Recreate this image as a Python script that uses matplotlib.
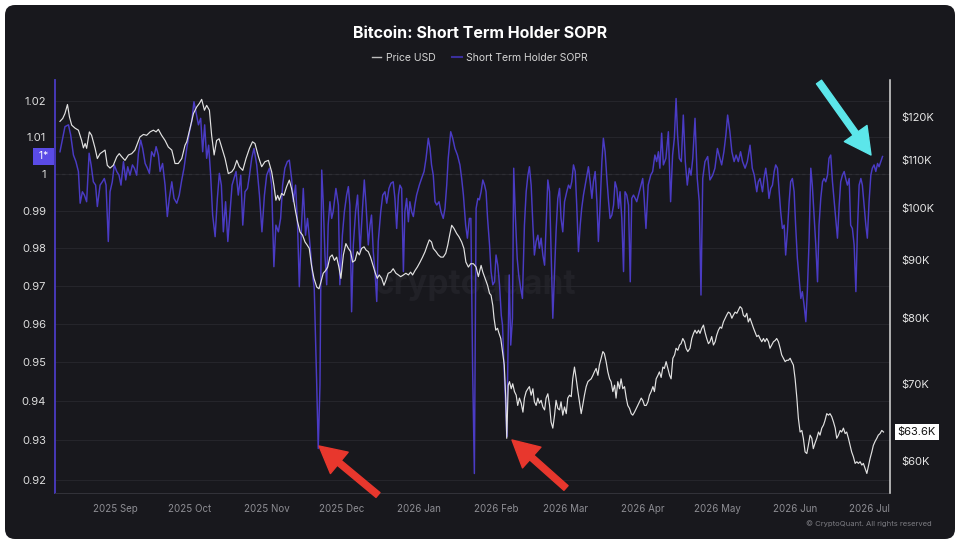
import numpy as np
import matplotlib
matplotlib.use("Agg")
import matplotlib.pyplot as plt
import matplotlib.dates as mdates
import datetime as dt
from matplotlib.patches import FancyBboxPatch, FancyArrowPatch
from matplotlib.transforms import IdentityTransform, blended_transform_factory
from matplotlib.ticker import FixedLocator, FixedFormatter, NullLocator, NullFormatter
from matplotlib.lines import Line2D

plt.rcParams['font.family'] = ['Inter', 'DejaVu Sans']

# ---------------- data (days offset from 2025-09-01) ----------------
base_date = dt.date(2025, 9, 1)

price_points = [  # (day, price in $K)
    (-22.1, 119.0), (-21.0, 119.7), (-20.1, 120.9), (-19.1, 123.1), (-18.3, 120.1), (-17.4, 118.1),
    (-16.1, 117.4), (-14.7, 116.9), (-13.4, 114.5), (-12.7, 112.8), (-12.0, 113.8), (-11.4, 112.7),
    (-10.3, 116.5), (-9.4, 115.7), (-8.0, 112.7), (-7.1, 110.4), (-6.0, 111.5), (-5.0, 111.9),
    (-4.0, 112.3), (-3.1, 108.9), (-2.0, 108.3), (-0.7, 108.9), (0.7, 110.8), (1.7, 111.5),
    (2.7, 110.8), (4.0, 110.0), (5.4, 111.2), (6.7, 111.5), (8.0, 112.3), (9.0, 113.8),
    (10.0, 115.3), (11.4, 115.9), (12.7, 115.7), (14.1, 116.5), (15.4, 116.9), (16.5, 116.5),
    (17.4, 117.1), (18.7, 115.7), (20.1, 114.5), (21.4, 113.0), (22.8, 112.3), (24.1, 109.3),
    (25.4, 109.3), (26.8, 110.4), (28.1, 113.4), (28.8, 114.2), (30.1, 117.3), (31.5, 120.9),
    (32.8, 122.5), (33.9, 123.4), (34.8, 124.4), (35.9, 121.7), (36.8, 122.9), (37.9, 121.7),
    (38.8, 115.7), (39.8, 111.2), (40.8, 114.5), (41.8, 114.9), (42.8, 113.0), (44.2, 110.4),
    (45.5, 107.1), (46.9, 107.5), (47.8, 108.2), (48.9, 110.0), (49.9, 108.6), (51.3, 107.8),
    (52.6, 110.4), (54.0, 112.7), (55.2, 114.2), (56.2, 113.8), (57.6, 110.8), (58.9, 108.6),
    (60.2, 109.7), (61.6, 110.0), (62.9, 107.5), (63.8, 104.6), (64.6, 101.5), (65.3, 102.5),
    (66.0, 101.5), (66.9, 102.9), (67.8, 102.5), (68.9, 104.3), (70.0, 105.7), (70.9, 103.9),
    (71.6, 101.9), (72.5, 99.2), (73.3, 97.2), (74.3, 95.2), (75.3, 94.6), (76.3, 93.3),
    (77.2, 92.7), (78.0, 92.1), (78.9, 89.0), (79.9, 86.7), (81.0, 85.2), (81.9, 84.9),
    (82.7, 86.1), (83.6, 87.6), (84.6, 88.1), (85.4, 88.7), (86.3, 90.5), (87.2, 90.9),
    (88.1, 89.9), (89.0, 90.5), (89.9, 88.7), (90.7, 86.7), (91.7, 90.9), (92.7, 93.0),
    (93.7, 92.1), (94.6, 91.5), (95.4, 89.6), (96.4, 89.9), (97.3, 91.5), (98.1, 90.9),
    (99.0, 92.1), (100.0, 92.4), (100.8, 91.8), (101.7, 91.5), (102.6, 90.5), (103.4, 89.3),
    (104.4, 87.8), (105.3, 86.7), (106.1, 87.3), (107.1, 86.7), (108.0, 85.5), (108.8, 86.4),
    (109.7, 87.6), (110.7, 87.8), (111.7, 88.4), (112.8, 87.6), (113.8, 87.3), (114.7, 87.0),
    (115.8, 87.3), (116.8, 87.6), (117.8, 87.3), (118.7, 87.8), (119.5, 87.3), (120.5, 88.1),
    (121.4, 88.7), (122.5, 89.6), (123.5, 90.5), (124.5, 91.5), (125.4, 92.7), (126.2, 93.7),
    (127.1, 93.3), (127.8, 92.1), (128.9, 91.5), (129.8, 90.9), (130.8, 90.5), (131.8, 90.5),
    (132.8, 91.2), (133.6, 92.7), (134.5, 94.9), (135.2, 96.5), (136.1, 95.9), (137.2, 94.9),
    (138.1, 94.3), (139.2, 93.3), (140.1, 92.1), (140.9, 89.6), (141.9, 88.7), (142.8, 89.3),
    (143.9, 89.3), (145.0, 88.7), (145.9, 87.0), (147.0, 89.0), (147.7, 87.8), (148.6, 86.7),
    (149.6, 85.5), (150.4, 84.1), (151.0, 83.8), (151.7, 82.1), (152.2, 80.0), (152.9, 78.1),
    (153.6, 78.4), (154.2, 77.6), (154.9, 76.8), (155.6, 74.8), (156.3, 72.8), (156.9, 68.1),
    (157.3, 62.8), (157.9, 69.9), (158.4, 70.4), (159.1, 69.4), (159.7, 70.1), (160.4, 69.0),
    (161.1, 68.5), (161.7, 67.1), (162.4, 68.1), (163.1, 67.4), (163.8, 66.2), (164.4, 68.1),
    (165.1, 69.0), (165.8, 69.4), (166.4, 69.7), (167.1, 68.5), (167.8, 69.4), (168.4, 67.6),
    (169.1, 67.1), (169.8, 68.1), (170.4, 67.4), (171.1, 67.8), (171.8, 66.9), (172.5, 66.5),
    (173.1, 68.1), (173.8, 68.7), (174.5, 67.1), (175.1, 64.9), (175.8, 64.1), (176.5, 65.8),
    (177.1, 67.8), (177.8, 66.7), (178.5, 66.5), (179.1, 67.6), (179.8, 65.8), (180.5, 66.9),
    (181.2, 66.0), (181.8, 68.1), (182.5, 68.5), (183.2, 68.3), (183.8, 70.8), (184.5, 72.5),
    (185.2, 70.8), (185.8, 69.2), (186.5, 67.6), (187.2, 66.0), (187.8, 67.1), (188.5, 68.5),
    (189.2, 69.7), (189.9, 70.4), (190.5, 70.6), (191.2, 70.8), (191.9, 71.3), (192.5, 71.8),
    (193.2, 72.3), (193.9, 71.3), (194.5, 72.8), (195.2, 73.8), (195.9, 74.8), (196.5, 74.5),
    (197.2, 73.3), (197.9, 71.8), (198.6, 70.8), (199.2, 70.4), (199.9, 69.0), (200.6, 69.9),
    (201.2, 68.1), (201.9, 70.4), (202.6, 69.4), (203.2, 70.8), (203.9, 69.4), (204.6, 69.7),
    (205.3, 68.1), (205.9, 67.1), (206.6, 66.7), (207.3, 66.0), (207.9, 65.8), (208.6, 66.2),
    (209.3, 66.7), (209.9, 67.1), (210.6, 67.6), (211.3, 68.1), (211.9, 67.8), (212.6, 67.1),
    (213.3, 67.1), (214.0, 67.6), (214.6, 68.5), (215.3, 69.0), (216.0, 69.7), (216.6, 69.0),
    (217.3, 70.8), (218.0, 71.3), (218.6, 71.8), (219.3, 71.0), (220.0, 72.5), (220.6, 72.3),
    (221.3, 73.3), (222.0, 72.3), (222.7, 71.3), (223.3, 70.8), (224.0, 73.8), (224.7, 74.3),
    (225.3, 75.3), (226.0, 75.0), (226.7, 75.8), (227.3, 76.0), (228.0, 76.8), (228.7, 76.3),
    (229.3, 75.3), (230.0, 74.8), (230.9, 75.3), (231.6, 76.8), (232.3, 77.6), (232.9, 78.1),
    (233.6, 77.6), (234.3, 78.1), (234.9, 77.6), (235.6, 78.4), (236.3, 78.9), (236.9, 77.8),
    (237.6, 76.8), (238.3, 76.0), (238.9, 76.3), (239.6, 77.1), (240.3, 75.8), (241.0, 76.3),
    (241.6, 77.3), (242.3, 78.1), (243.0, 78.6), (243.6, 78.4), (244.3, 79.4), (245.0, 80.0),
    (245.6, 80.5), (246.3, 81.0), (247.0, 80.8), (247.7, 80.0), (248.3, 80.5), (249.0, 81.0),
    (249.7, 80.8), (250.3, 81.3), (251.0, 81.9), (251.7, 81.6), (252.3, 80.5), (253.0, 80.2),
    (253.7, 80.8), (254.3, 79.4), (255.0, 80.0), (255.7, 79.2), (256.4, 78.4), (257.0, 77.8),
    (257.7, 77.1), (258.4, 77.3), (259.0, 76.8), (259.7, 76.3), (260.4, 76.8), (261.0, 76.3),
    (261.7, 76.8), (262.4, 76.3), (263.0, 75.3), (263.7, 75.8), (264.4, 76.3), (265.1, 76.5),
    (265.7, 76.8), (266.4, 76.3), (267.1, 75.3), (267.7, 74.3), (268.4, 73.8), (269.1, 73.3),
    (269.7, 73.5), (270.4, 73.5), (271.1, 73.8), (271.7, 73.3), (272.4, 72.8), (273.1, 70.8),
    (273.8, 68.1), (274.4, 65.4), (275.1, 63.6), (275.8, 63.8), (276.4, 62.8), (277.1, 61.1),
    (277.8, 60.9), (278.4, 61.9), (279.1, 63.2), (279.8, 62.8), (280.4, 61.5), (281.1, 62.2),
    (281.8, 62.8), (282.5, 63.6), (283.1, 63.2), (283.8, 64.1), (284.5, 64.5), (285.1, 65.1),
    (285.8, 66.0), (286.5, 65.8), (287.1, 66.0), (287.8, 65.6), (288.5, 64.9), (289.2, 64.1),
    (289.8, 62.8), (290.5, 63.2), (291.2, 63.8), (291.8, 63.6), (292.5, 64.1), (293.2, 63.4),
    (293.8, 63.6), (294.5, 62.8), (295.2, 61.9), (295.8, 61.1), (296.5, 60.5), (297.2, 59.7),
    (297.9, 59.9), (298.5, 59.7), (299.2, 59.9), (299.9, 59.5), (300.5, 59.7), (301.2, 59.1),
    (301.9, 58.5), (302.5, 59.3), (303.2, 60.3), (303.9, 61.1), (304.5, 61.9), (305.2, 62.4),
    (305.9, 62.8), (306.5, 63.2), (307.2, 63.4), (307.9, 63.8), (308.6, 63.6),
]

sopr_points = [  # (day, STH SOPR)
    (-22.1, 1.0060), (-20.1, 1.0129), (-18.7, 1.0134), (-17.8, 1.0106), (-16.7, 1.0051), (-15.7, 1.0033),
    (-14.7, 1.0006), (-14.0, 0.9920), (-13.1, 0.9951), (-12.3, 0.9942), (-11.4, 0.9924), (-10.4, 1.0056),
    (-9.6, 1.0024), (-8.7, 0.9978), (-7.8, 0.9969), (-7.1, 0.9911), (-6.0, 0.9969), (-5.1, 0.9978),
    (-4.3, 0.9987), (-3.6, 0.9969), (-2.7, 0.9817), (-2.0, 0.9951), (-1.1, 0.9978), (-0.3, 1.0024),
    (0.7, 1.0006), (1.6, 0.9996), (2.4, 0.9969), (3.4, 1.0033), (4.3, 0.9983), (5.1, 1.0019),
    (6.0, 0.9996), (7.0, 1.0024), (7.8, 1.0015), (8.7, 0.9996), (9.4, 1.0056), (10.3, 1.0092),
    (11.1, 1.0069), (12.1, 1.0028), (13.0, 1.0015), (13.8, 1.0001), (14.7, 1.0060), (15.7, 1.0047),
    (16.5, 1.0074), (17.4, 1.0051), (18.1, 1.0006), (19.1, 1.0028), (20.1, 0.9969), (21.0, 0.9884),
    (21.8, 0.9933), (22.8, 0.9978), (23.7, 0.9933), (24.8, 0.9920), (25.8, 0.9942), (26.8, 0.9983),
    (27.7, 1.0015), (28.8, 1.0069), (29.9, 1.0115), (30.8, 1.0143), (31.7, 1.0198), (32.5, 1.0170),
    (33.5, 1.0134), (34.4, 1.0152), (35.2, 1.0060), (36.0, 1.0134), (36.8, 1.0042), (37.6, 1.0078),
    (38.4, 0.9996), (39.2, 0.9888), (40.2, 0.9830), (41.1, 0.9933), (41.9, 1.0001), (42.7, 0.9969),
    (43.5, 0.9843), (44.4, 0.9924), (45.3, 0.9817), (46.2, 0.9897), (47.0, 0.9969), (47.8, 0.9987),
    (48.6, 1.0006), (49.5, 0.9942), (50.5, 0.9996), (51.3, 0.9861), (52.2, 0.9951), (53.2, 0.9960),
    (54.0, 0.9996), (54.9, 1.0042), (55.8, 1.0069), (56.9, 1.0024), (58.0, 0.9942), (59.0, 0.9843),
    (60.0, 0.9942), (60.9, 0.9996), (62.0, 1.0015), (62.9, 0.9969), (63.8, 0.9750), (64.6, 0.9861),
    (65.6, 0.9843), (66.5, 0.9879), (67.3, 0.9969), (68.2, 1.0015), (69.2, 1.0033), (70.0, 1.0037),
    (70.9, 0.9987), (71.6, 0.9924), (72.5, 0.9969), (73.3, 0.9861), (74.0, 0.9697), (74.9, 0.9861),
    (75.6, 0.9960), (76.5, 0.9834), (77.3, 0.9879), (78.3, 0.9808), (79.2, 0.9737), (80.0, 0.9693),
    (81.0, 0.9441), (81.6, 0.9279), (82.3, 0.9441), (83.0, 1.0010), (83.6, 0.9924), (84.3, 0.9781),
    (85.0, 0.9702), (85.6, 0.9861), (86.3, 0.9924), (87.0, 0.9879), (87.6, 0.9897), (88.7, 0.9960),
    (89.7, 0.9915), (90.3, 0.9702), (91.3, 0.9834), (92.1, 0.9897), (93.0, 0.9942), (93.7, 0.9965),
    (94.3, 0.9915), (95.0, 0.9631), (95.7, 0.9808), (96.6, 0.9897), (97.4, 0.9942), (98.4, 0.9790),
    (99.3, 0.9897), (100.1, 0.9983), (100.8, 0.9915), (101.7, 0.9808), (102.4, 0.9861), (103.0, 0.9888),
    (103.7, 0.9790), (104.4, 0.9737), (105.1, 0.9658), (105.7, 0.9817), (106.7, 0.9897), (107.5, 0.9942),
    (108.4, 0.9951), (109.1, 0.9920), (110.0, 0.9960), (110.8, 0.9974), (111.7, 0.9978), (112.4, 0.9933),
    (113.1, 0.9852), (113.8, 0.9942), (114.4, 0.9969), (115.1, 0.9960), (115.8, 0.9737), (116.4, 0.9897),
    (117.1, 0.9933), (117.8, 0.9870), (118.4, 0.9924), (119.1, 0.9897), (119.8, 0.9884), (120.4, 0.9915),
    (121.1, 0.9942), (122.2, 0.9969), (123.1, 0.9987), (124.1, 1.0006), (124.9, 1.0042), (125.8, 1.0097),
    (126.5, 1.0069), (127.1, 1.0024), (127.8, 0.9996), (128.5, 0.9924), (129.2, 0.9915), (130.1, 0.9924),
    (130.9, 0.9897), (131.8, 0.9879), (132.5, 0.9906), (133.2, 0.9969), (133.8, 1.0042), (134.8, 1.0115),
    (135.6, 1.0097), (136.5, 1.0069), (137.5, 1.0051), (138.5, 1.0024), (139.2, 0.9987), (139.9, 0.9942),
    (140.8, 0.9861), (141.5, 0.9826), (142.3, 0.9879), (142.9, 0.9879), (143.6, 0.9484), (144.3, 0.9216),
    (145.0, 0.9906), (145.7, 0.9933), (146.3, 0.9929), (147.0, 0.9951), (147.7, 0.9983), (148.4, 0.9969),
    (149.0, 0.9951), (149.6, 0.9879), (150.4, 0.9808), (151.0, 0.9737), (151.7, 0.9702), (152.4, 0.9710),
    (153.0, 0.9781), (153.7, 0.9754), (154.4, 0.9702), (155.1, 0.9622), (155.6, 0.9596), (156.4, 0.9458),
    (157.1, 0.9356), (157.3, 0.9309), (157.9, 0.9570), (158.3, 0.9728), (158.9, 0.9544), (159.6, 0.9614),
    (160.1, 1.0015), (160.8, 0.9879), (161.5, 0.9772), (162.1, 0.9728), (162.9, 0.9693), (163.6, 0.9666),
    (164.4, 0.9861), (165.1, 0.9951), (165.8, 0.9996), (166.4, 1.0019), (167.1, 0.9969), (167.8, 0.9861),
    (168.4, 0.9781), (169.1, 0.9817), (169.8, 0.9834), (170.4, 0.9799), (171.1, 0.9826), (171.8, 0.9781),
    (172.5, 0.9754), (173.1, 0.9861), (173.8, 0.9983), (174.5, 0.9951), (175.1, 0.9790), (175.8, 0.9614),
    (176.5, 0.9737), (177.1, 0.9843), (177.8, 0.9933), (178.5, 0.9960), (179.1, 0.9879), (179.8, 0.9843),
    (180.5, 0.9924), (181.4, 0.9951), (182.1, 0.9969), (182.8, 0.9960), (183.4, 0.9978), (184.1, 1.0024),
    (184.8, 1.0006), (185.4, 0.9915), (186.1, 0.9790), (186.8, 0.9861), (187.4, 0.9906), (188.1, 0.9942),
    (188.8, 0.9969), (189.5, 0.9996), (190.1, 1.0019), (190.8, 0.9978), (191.5, 0.9933), (192.1, 0.9978),
    (192.8, 1.0006), (193.5, 0.9924), (194.1, 0.9817), (194.8, 0.9915), (195.5, 1.0033), (196.1, 1.0097),
    (196.8, 1.0060), (197.5, 0.9987), (198.2, 0.9924), (198.8, 0.9879), (199.5, 0.9888), (200.2, 0.9915),
    (200.8, 0.9978), (201.5, 0.9960), (202.2, 0.9906), (202.8, 0.9951), (203.5, 0.9879), (204.2, 0.9737),
    (204.8, 0.9951), (205.5, 0.9942), (206.2, 0.9915), (206.9, 0.9710), (207.5, 0.9933), (208.2, 0.9942),
    (208.9, 0.9933), (209.5, 0.9924), (210.2, 0.9942), (211.9, 0.9987), (212.4, 0.9942), (213.2, 0.9852),
    (214.1, 0.9969), (215.1, 0.9996), (215.9, 1.0006), (216.8, 1.0051), (217.5, 1.0033), (218.2, 1.0060),
    (218.8, 1.0015), (219.5, 1.0111), (220.2, 1.0024), (221.2, 1.0042), (222.2, 1.0115), (223.1, 0.9924),
    (223.9, 1.0051), (224.6, 1.0097), (225.3, 1.0207), (225.9, 1.0106), (226.6, 1.0042), (227.4, 1.0033),
    (228.2, 1.0161), (229.0, 1.0033), (229.8, 0.9969), (230.6, 1.0015), (231.3, 0.9996), (232.0, 1.0042),
    (232.9, 1.0152), (233.8, 0.9987), (234.6, 0.9924), (235.3, 0.9675), (236.0, 0.9987), (236.9, 1.0033),
    (238.0, 1.0047), (238.9, 0.9983), (240.0, 0.9996), (240.9, 1.0015), (241.9, 1.0069), (242.7, 1.0047),
    (243.6, 1.0024), (244.5, 1.0060), (245.3, 1.0106), (246.0, 1.0161), (246.9, 1.0115), (247.7, 1.0060),
    (248.6, 1.0033), (249.4, 1.0051), (250.3, 1.0033), (251.2, 1.0060), (252.0, 1.0033), (253.0, 1.0015),
    (253.9, 1.0033), (255.0, 1.0078), (255.9, 1.0015), (256.7, 0.9996), (257.7, 0.9951), (258.3, 0.9978),
    (259.0, 0.9987), (260.0, 0.9951), (260.6, 0.9987), (261.3, 1.0015), (262.0, 0.9978), (262.6, 0.9933),
    (263.3, 0.9960), (264.0, 0.9969), (264.7, 1.0006), (265.3, 1.0024), (266.0, 1.0015), (266.7, 0.9951),
    (267.3, 0.9897), (268.0, 0.9852), (268.7, 0.9861), (269.3, 0.9781), (270.0, 0.9843), (270.7, 0.9924),
    (271.3, 0.9978), (272.0, 0.9987), (272.7, 0.9951), (273.3, 0.9861), (274.0, 0.9772), (274.7, 0.9719),
    (275.4, 0.9666), (276.0, 0.9684), (276.7, 0.9649), (277.4, 0.9605), (278.0, 0.9684), (278.7, 0.9817),
    (279.4, 1.0015), (280.0, 0.9969), (280.7, 0.9888), (281.4, 0.9808), (282.1, 0.9710), (282.7, 0.9861),
    (283.4, 0.9933), (284.1, 0.9978), (284.7, 0.9987), (285.4, 0.9978), (286.1, 0.9996), (286.7, 1.0042),
    (287.4, 1.0051), (288.1, 0.9978), (288.7, 0.9933), (289.4, 0.9879), (290.1, 0.9826), (290.8, 0.9915),
    (291.4, 0.9978), (292.1, 0.9996), (292.8, 1.0006), (293.4, 0.9987), (294.1, 0.9969), (294.8, 0.9987),
    (295.4, 0.9861), (296.1, 0.9852), (296.8, 0.9808), (297.5, 0.9684), (298.1, 0.9843), (298.8, 0.9969),
    (299.5, 0.9987), (300.1, 0.9969), (300.8, 0.9915), (301.5, 0.9861), (302.1, 0.9826), (302.8, 0.9924),
    (303.5, 0.9996), (304.1, 1.0015), (304.8, 1.0024), (305.5, 1.0006), (306.2, 1.0028), (306.8, 1.0019),
    (307.5, 1.0033), (308.2, 1.0047),
]

sopr_ticks = [0.92, 0.93, 0.94, 0.95, 0.96, 0.97, 0.98, 0.99, 1.00, 1.01, 1.02]
sopr_tick_labels = ["0.92", "0.93", "0.94", "0.95", "0.96", "0.97", "0.98", "0.99", "1", "1.01", "1.02"]
price_ticks = [60, 70, 80, 90, 100, 110, 120]
price_tick_labels = ["$60K", "$70K", "$80K", "$90K", "$100K", "$110K", "$120K"]
month_starts = [dt.date(2025, m, 1) for m in range(9, 13)] + [dt.date(2026, m, 1) for m in range(1, 8)]
month_labels = ["2025 Sep", "2025 Oct", "2025 Nov", "2025 Dec", "2026 Jan", "2026 Feb",
                "2026 Mar", "2026 Apr", "2026 May", "2026 Jun", "2026 Jul"]

title = "Bitcoin: Short Term Holder SOPR"
legend_labels = ["Price USD", "Short Term Holder SOPR"]

# ---------------- styling ----------------
BG = "#18181d"
PURPLE = "#4a3bc4"
WHITE_LINE = "#e2e2e2"

W, H = 960, 548
fig = plt.figure(figsize=(W / 100, H / 100), dpi=100, facecolor="white")

panel = FancyBboxPatch((5, H - 539), 950, 534, boxstyle="round,pad=0,rounding_size=10",
                       transform=IdentityTransform(), facecolor=BG, edgecolor="none", zorder=-5)
fig.add_artist(panel)

ax = fig.add_axes([55 / W, (H - 493) / H, 835 / W, 413 / H])
ax.set_facecolor("none")
ax2 = ax.twinx()

base_num = mdates.date2num(base_date)
p_days = np.array([p[0] for p in price_points])
p_vals = np.array([p[1] for p in price_points])
s_days = np.array([s[0] for s in sopr_points])
s_vals = np.array([s[1] for s in sopr_points])

ax.plot(base_num + s_days, s_vals, color=PURPLE, lw=1.05, zorder=3)
ax2.plot(base_num + p_days, p_vals, color=WHITE_LINE, lw=0.85, zorder=3)

ax.set_xlim(base_num - 24.1, base_num + 311.2)

ax.set_yscale("log")
ax.set_ylim(0.91672, 1.02585)
ax.yaxis.set_major_locator(FixedLocator(sopr_ticks))
ax.yaxis.set_major_formatter(FixedFormatter(sopr_tick_labels))
ax.yaxis.set_minor_locator(NullLocator())
ax.yaxis.set_minor_formatter(NullFormatter())

ax2.set_yscale("log")
ax2.set_ylim(56.24, 129.35)
ax2.yaxis.set_major_locator(FixedLocator(price_ticks))
ax2.yaxis.set_major_formatter(FixedFormatter(price_tick_labels))
ax2.yaxis.set_minor_locator(NullLocator())
ax2.yaxis.set_minor_formatter(NullFormatter())

ax.set_xticks([mdates.date2num(d) for d in month_starts])
ax.set_xticklabels(month_labels)

ax.tick_params(axis="x", length=0, pad=8, labelsize=7, labelcolor="#8e8e94")
ax.tick_params(axis="y", length=0, pad=6.5, labelsize=8, labelcolor="#dedede")
ax2.tick_params(axis="y", length=0, pad=8.5, labelsize=8, labelcolor="#e6e6e6")

ax.yaxis.grid(True, color="#28282e", lw=0.6, zorder=0)
ax.axhline(1.0, color="#4e4e55", lw=0.8, ls=(0, (3, 3)), zorder=1)

for s in ["top", "right"]:
    ax.spines[s].set_visible(False)
ax.spines["left"].set_color(PURPLE)
ax.spines["left"].set_linewidth(1.3)
ax.spines["bottom"].set_color("#33333a")
ax.spines["bottom"].set_linewidth(0.7)
for s in ["top", "left", "bottom"]:
    ax2.spines[s].set_visible(False)
ax2.spines["right"].set_color("#d8d8d8")
ax2.spines["right"].set_linewidth(1.1)

# watermark
ax.text(0.503, 0.504, "cryptoquant", transform=ax.transAxes, ha="center", va="center",
        fontsize=24, color="#212127", fontweight="bold", zorder=0.5)

# current value badges
tr_left = blended_transform_factory(ax.transAxes, ax.transData)
ax.text(-0.0135, s_vals[-1], " 1* ", transform=tr_left, ha="center", va="center", fontsize=7.5,
        color="white", clip_on=False, zorder=6,
        bbox=dict(boxstyle="square,pad=0.3", facecolor="#5a4be6", edgecolor="none"))
tr_right = blended_transform_factory(ax2.transAxes, ax2.transData)
ax2.text(1.0323, p_vals[-1], f"${p_vals[-1]:.1f}K", transform=tr_right, ha="center", va="center",
         fontsize=8, color="#111111", clip_on=False, zorder=6,
         bbox=dict(boxstyle="square,pad=0.25", facecolor="white", edgecolor="none"))

# title & legend
fig.text(0.5, 1 - 33 / H, title, ha="center", va="center", fontsize=11.5, fontweight="bold", color="white")
handles = [Line2D([], [], color="#bdbdbd", lw=1.0), Line2D([], [], color="#3a2f9c", lw=1.5)]
fig.legend(handles, legend_labels, loc="center", bbox_to_anchor=(0.5, 1 - 58 / H), ncol=2,
           frameon=False, fontsize=7.5, labelcolor="#d4d4d4", handlelength=0.9,
           handletextpad=0.45, columnspacing=1.6)

fig.text(932 / W, 1 - 524 / H, "© CryptoQuant. All rights reserved", ha="right", va="center",
         fontsize=5.5, color="#7c7c82")

# annotation arrows
def arrow(x0, y0, x1, y1, color):
    a = FancyArrowPatch((x0, H - y0), (x1, H - y1), transform=IdentityTransform(),
                        arrowstyle="simple,tail_width=0.45,head_width=2.0,head_length=1.9",
                        mutation_scale=10, color=color, shrinkA=0, shrinkB=0, zorder=20)
    fig.add_artist(a)

arrow(378, 495, 319, 446, "#e8372d")
arrow(566, 488, 512, 440, "#e8372d")
arrow(819, 82, 871, 155, "#5ce6ea")

fig.savefig("out.png", dpi=100, facecolor="white")
